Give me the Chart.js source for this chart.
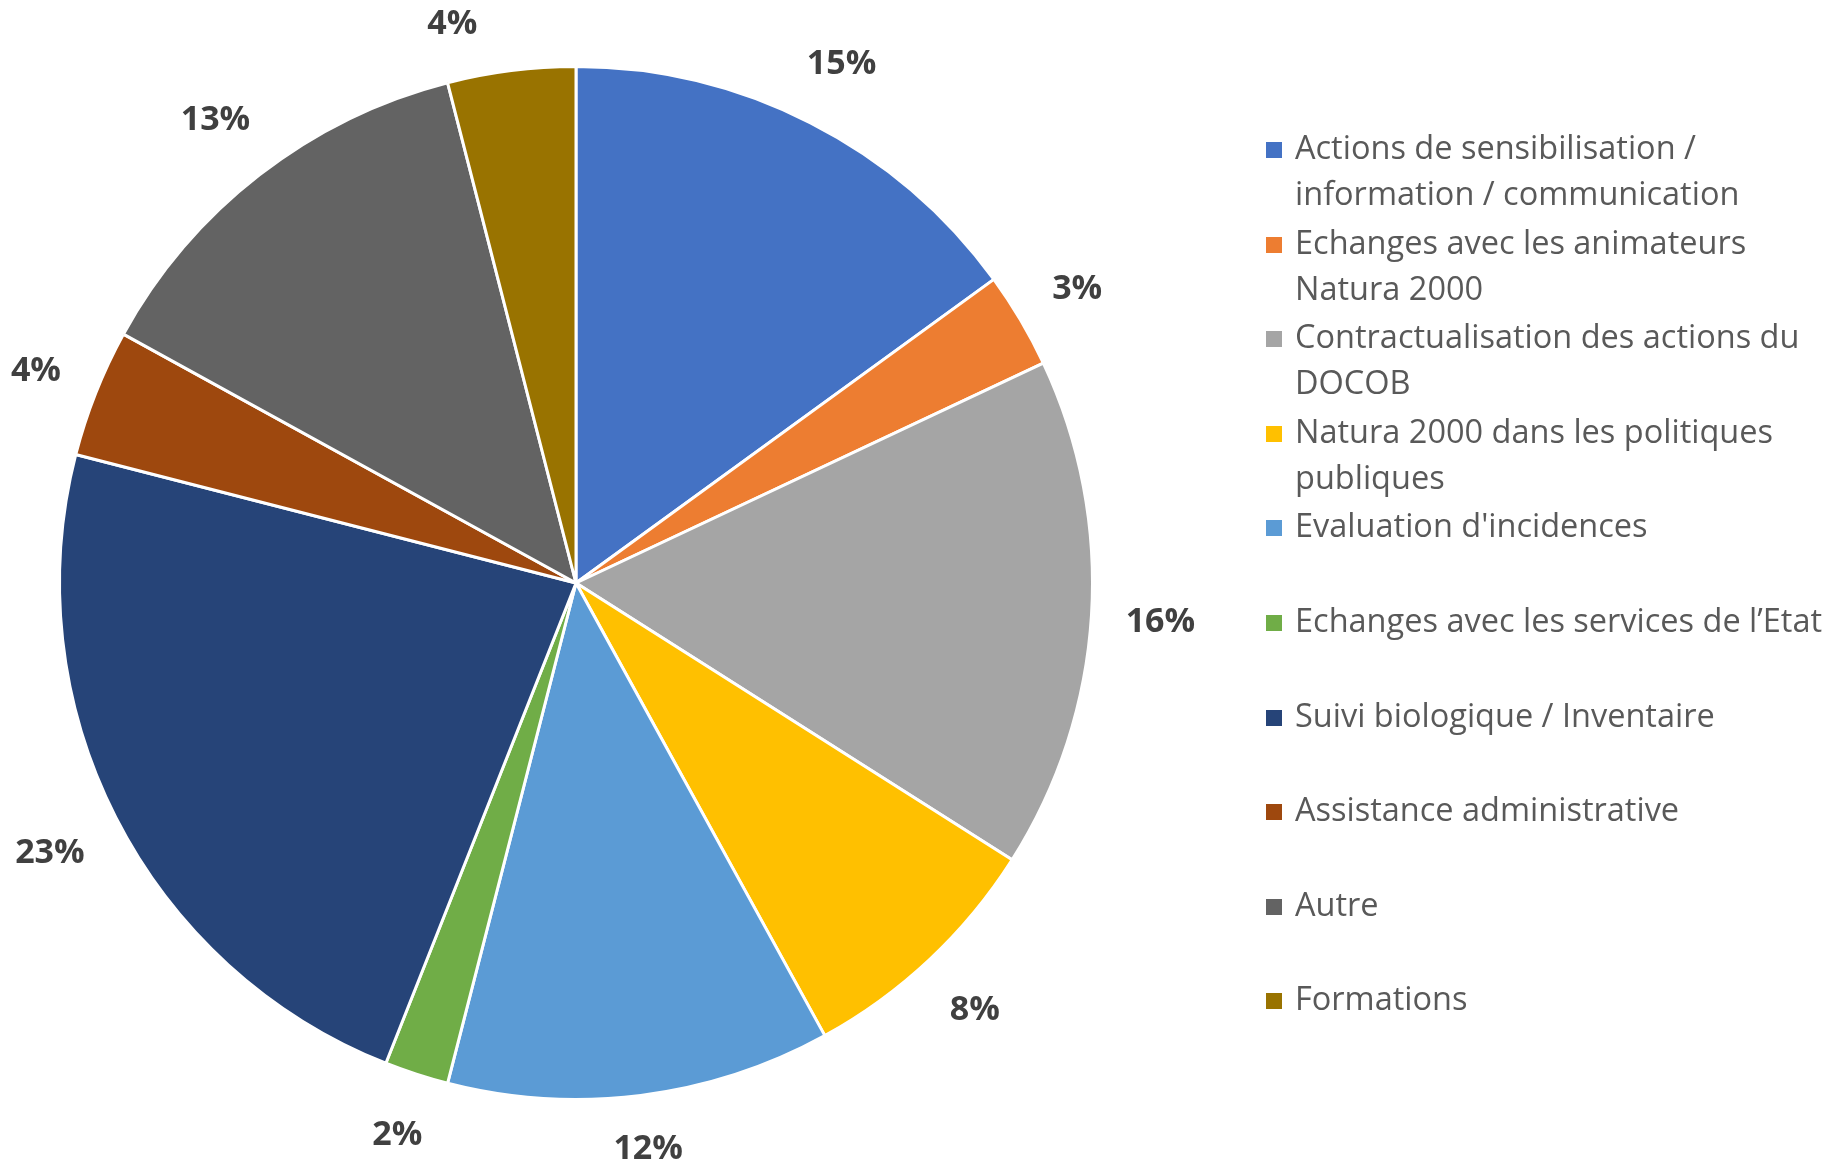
<!DOCTYPE html>
<html lang="fr">
<head>
<meta charset="utf-8">
<title>Répartition des missions</title>
<script src="https://cdn.jsdelivr.net/npm/chart.js@4.4.1/dist/chart.umd.min.js"></script>
<style>
  html, body {
    margin: 0;
    padding: 0;
    background: #ffffff;
  }
  #wrap {
    position: relative;
    width: 1837px;
    height: 1167px;
    overflow: hidden;
  }
  #pie {
    position: absolute;
    left: 0;
    top: 0;
  }
  #legend {
    position: absolute;
    left: 1266px;
    top: 124px;
    font-family: 'Open Sans', sans-serif;
    font-size: 32.5px;
    line-height: 46px;
    color: #595959;
  }
  .item {
    position: relative;
    height: 94.6px;
    padding-left: 29px;
    white-space: nowrap;
  }
  .swatch {
    position: absolute;
    left: 0;
    top: 18px;
    width: 16px;
    height: 16px;
  }
</style>
</head>
<body>
<div id="wrap">
  <canvas id="pie" width="1837" height="1167"></canvas>
  <div id="legend"></div>
</div>
<script>
// catégories (déjà coupées en lignes comme dans la légende)
const categories = [
  ['Actions de sensibilisation /', 'information / communication'],
  ['Echanges avec les animateurs', 'Natura 2000'],
  ['Contractualisation des actions du', 'DOCOB'],
  ['Natura 2000 dans les politiques', 'publiques'],
  ["Evaluation d'incidences"],
  ['Echanges avec les services de l\u2019Etat'],
  ['Suivi biologique / Inventaire'],
  ['Assistance administrative'],
  ['Autre'],
  ['Formations'],
];

// part de chaque mission, en %
const shares = [15, 3, 16, 8, 12, 2, 23, 4, 13, 4];

const sliceColors = [
  '#4472C4', '#ED7D31', '#A5A5A5', '#FFC000', '#5B9BD5',
  '#70AD47', '#264478', '#9E480E', '#636363', '#997300',
];

// étiquettes en % posées à l'extérieur de chaque part
const outsideLabels = {
  id: 'outsideLabels',
  afterDatasetsDraw(chart) {
    const { ctx } = chart;
    const meta = chart.getDatasetMeta(0);
    const fontSize = 34;
    const capH = fontSize * 0.714;
    const boxH = 44;
    const gap = 33;
    const minY = 22;
    const maxY = chart.height - 20;
    ctx.save();
    ctx.font = `bold ${fontSize}px "Open Sans", sans-serif`;
    ctx.fillStyle = '#404040';
    ctx.textAlign = 'center';
    ctx.textBaseline = 'alphabetic';
    meta.data.forEach((arc, i) => {
      const text = shares[i] + '%';
      const w = ctx.measureText(text).width;
      const mid = (arc.startAngle + arc.endAngle) / 2;
      const cos = Math.cos(mid);
      const sin = Math.sin(mid);
      // on écarte la boîte du texte du bord de la part
      const dist = arc.outerRadius + gap + Math.abs(cos) * w / 2 + Math.abs(sin) * boxH / 2;
      let x = arc.x + cos * dist;
      let y = arc.y + sin * dist;
      // garder les étiquettes dans le canvas
      if (y < minY) {
        const dy = minY - arc.y;
        const dx = Math.sqrt(Math.max(dist * dist - dy * dy, 0));
        x = arc.x + (cos < 0 ? -dx : dx);
        y = minY;
      } else if (y > maxY) {
        y = maxY;
      }
      ctx.fillText(text, x, y + capH / 2);
    });
    ctx.restore();
  },
};

new Chart(document.getElementById('pie'), {
  type: 'pie',
  data: {
    labels: categories,
    datasets: [{
      data: shares,
      backgroundColor: sliceColors,
      borderColor: '#ffffff',
      borderWidth: 3,
    }],
  },
  options: {
    responsive: false,
    animation: false,
    layout: {
      padding: { left: 58, right: 743, top: 65, bottom: 66 },
    },
    plugins: {
      legend: { display: false },
      tooltip: { enabled: false },
    },
  },
  plugins: [outsideLabels],
});

// légende à droite
const legend = document.getElementById('legend');
categories.forEach((lines, i) => {
  const item = document.createElement('div');
  item.className = 'item';
  const sw = document.createElement('span');
  sw.className = 'swatch';
  sw.style.background = sliceColors[i];
  item.appendChild(sw);
  lines.forEach((line) => {
    const row = document.createElement('div');
    row.textContent = line;
    item.appendChild(row);
  });
  legend.appendChild(item);
});
</script>
</body>
</html>
